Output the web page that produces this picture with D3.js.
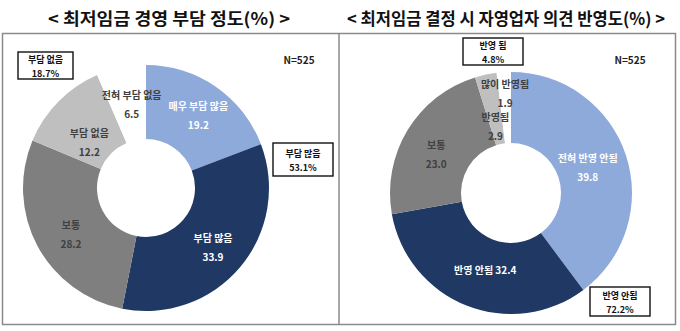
<!DOCTYPE html>
<html><head><meta charset="utf-8">
<script src="https://cdn.jsdelivr.net/npm/d3@7"></script>
<style>
html,body{margin:0;padding:0;background:#fff;}
svg{display:block;font-family:"Noto Sans CJK KR","Noto Sans",sans-serif;}
</style></head>
<body>
<svg id="chart" width="680" height="331"></svg>
<script>
// ---- data ----
const leftTitle = "< 최저임금 경영 부담 정도(%) >";
const leftCategories = ["매우 부담 많음", "부담 많음", "보통", "부담 없음", "전혀 부담 없음"];
const leftValues = [19.2, 33.9, 28.2, 12.2, 6.5];
const leftCallouts = [["부담 없음", [3, 4]], ["부담 많음", [0, 1]]];

const rightTitle = "< 최저임금 결정 시 자영업자 의견 반영도(%) >";
const rightCategories = ["전혀 반영 안됨", "반영 안됨", "보통", "반영됨", "많이 반영됨"];
const rightValues = [39.8, 32.4, 23.0, 2.9, 1.9];
const rightCallouts = [["반영 됨", [3, 4]], ["반영 안됨", [0, 1]]];

const sampleN = "N=525";

// ---- style / layout ----
const sliceColors = ["#8eaadb", "#1f3864", "#7f7f7f", "#bfbfbf", "#ffffff"];
const labelColors = ["#ffffff", "#ffffff", "#404040", "#404040", "#404040"];

const svg = d3.select("#chart");

// frame
svg.append("rect").attr("x", 2.5).attr("y", 33.5).attr("width", 673).attr("height", 291)
  .attr("fill", "none").attr("stroke", "#8a8a8a").attr("stroke-width", 1.5);
svg.append("line").attr("x1", 339).attr("x2", 339).attr("y1", 33.5).attr("y2", 324.5)
  .attr("stroke", "#8a8a8a").attr("stroke-width", 1.5);

function drawDonut(cfg) {
  const g = svg.append("g");
  // title
  g.append("text").attr("x", cfg.titleX).attr("y", 25).attr("text-anchor", "middle")
    .attr("font-size", 17).attr("font-weight", 700).attr("fill", "#111")
    .attr("textLength", cfg.titleW).attr("lengthAdjust", "spacingAndGlyphs")
    .text(cfg.title);

  const pie = d3.pie().sort(null).value(d => d).startAngle(0).endAngle(2 * Math.PI);
  const arcs = pie(cfg.values);
  const arc = d3.arc().innerRadius(cfg.r0).outerRadius(cfg.r1);
  const dg = g.append("g").attr("transform", `translate(${cfg.cx},${cfg.cy})`);
  dg.selectAll("path").data(arcs).join("path")
    .attr("d", arc).attr("fill", (d, i) => sliceColors[i]);

  arcs.forEach((a, i) => {
    const ang = (a.startAngle + a.endAngle) / 2 + cfg.labelAngle[i] * Math.PI / 180;
    const r = cfg.labelR[i];
    const x = Math.sin(ang) * r, y = -Math.cos(ang) * r;
    const t = dg.append("text").attr("text-anchor", "middle")
      .attr("font-size", 10).attr("font-weight", 700).attr("fill", labelColors[i]);
    if (cfg.singleLine[i]) {
      t.attr("x", x).attr("y", y + 4).text(cfg.categories[i] + " " + cfg.values[i].toFixed(1));
    } else {
      t.append("tspan").attr("x", x).attr("y", y - 5).text(cfg.categories[i]);
      t.append("tspan").attr("x", x).attr("y", y + 14).text(cfg.values[i].toFixed(1));
    }
  });

  // N
  g.append("text").attr("x", cfg.nX).attr("y", 64).attr("text-anchor", "middle")
    .attr("font-size", 10).attr("font-weight", 700).attr("fill", "#222").text(sampleN);

  // callouts
  cfg.callouts.forEach(([name, idx], k) => {
    const b = cfg.boxes[k];
    const total = d3.sum(idx, j => cfg.values[j]);
    g.append("rect").attr("x", b[0]).attr("y", b[1]).attr("width", b[2]).attr("height", b[3])
      .attr("fill", "#fff").attr("stroke", "#111").attr("stroke-width", 1.4);
    const cx = b[0] + b[2] / 2, cy = b[1] + b[3] / 2;
    g.append("text").attr("x", cx).attr("y", cy - 2.5).attr("text-anchor", "middle")
      .attr("font-size", 9).attr("font-weight", 700).attr("fill", "#111").text(name);
    g.append("text").attr("x", cx).attr("y", cy + 11).attr("text-anchor", "middle")
      .attr("font-size", 9).attr("font-weight", 700).attr("fill", "#111").text(total.toFixed(1) + "%");
  });
}

drawDonut({
  title: leftTitle, titleX: 169, titleW: 242,
  categories: leftCategories, values: leftValues,
  cx: 146, cy: 188, r0: 49, r1: 123,
  labelR: [90, 89, 88, 73, 85], labelAngle: [1, 1, -3.5, -5.6, 2],
  singleLine: [false, false, false, false, false],
  nX: 299, callouts: leftCallouts,
  boxes: [[18, 52, 55, 27], [273, 143, 60, 33]]
});

drawDonut({
  title: rightTitle, titleX: 506, titleW: 318,
  categories: rightCategories, values: rightValues,
  cx: 511, cy: 193, r0: 50, r1: 121,
  labelR: [81, 81, 84.5, 69, 100], labelAngle: [-0.3, -3, -3.5, -1, 0],
  singleLine: [false, true, false, false, false],
  nX: 630, callouts: rightCallouts,
  boxes: [[463, 38, 60, 27], [590, 287, 60, 29]]
});
</script>
</body></html>
